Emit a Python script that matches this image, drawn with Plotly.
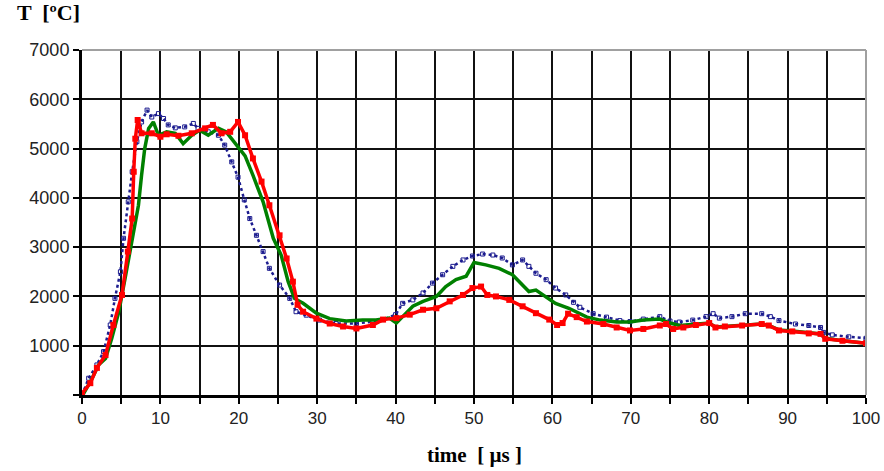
import plotly.graph_objects as go

# ---- data ----
blue_t = [0, 0.85, 1.9, 2.75, 3.6, 4.2, 4.9, 5.3, 5.9, 6.4, 7.0, 7.6, 8.3, 8.9, 9.75, 10.4, 11.0, 11.9,
          13.1, 14.2, 14.8, 16.1, 17.4, 18.2, 19.1, 19.9, 20.7, 21.4, 22.25, 23.1, 23.9, 25.2, 26.5,
          27.3, 28.6, 30.3, 32.4, 35, 37.1, 38.4, 40, 40.9, 42.2, 43.5, 44.7, 46.0, 47.3, 48.6, 49.8,
          51.1, 52.4, 53.6, 54.9, 56.2, 57.0, 57.9, 59.2, 60.4, 61.7, 62.7, 63.5, 65.2, 66.9, 68.6,
          69.9, 71.6, 73.7, 75, 76.2, 77.9, 79.6, 80.5, 81.3, 82.9, 84.6, 86.7, 87.8, 88.9, 91, 92.7,
          94.2, 94.6, 95.7, 97.8, 100]
blue_T = [0, 340, 610, 880, 1420, 1960, 2500, 3180, 3920, 4530, 5140, 5540, 5780, 5640, 5710, 5610,
          5480, 5420, 5440, 5510, 5410, 5340, 5270, 5070, 4730, 4420, 3960, 3580, 3240, 2910, 2570,
          2230, 1960, 1690, 1620, 1520, 1450, 1450, 1490, 1530, 1630, 1860, 1930, 2070, 2270, 2440,
          2610, 2740, 2820, 2860, 2840, 2780, 2640, 2740, 2610, 2470, 2340, 2170, 2030, 1880, 1780,
          1650, 1580, 1510, 1490, 1540, 1590, 1500, 1480, 1520, 1590, 1650, 1560, 1590, 1650, 1650,
          1590, 1510, 1440, 1410, 1370, 1270, 1220, 1180, 1150]

green_t = [0.2, 1.3, 2.1, 3.0, 3.8, 4.7, 5.5, 6.4, 7.2, 7.6, 8.0, 8.5, 9.1, 9.75, 10.8, 11.9, 12.9,
           14.0, 15.0, 16.1, 17.4, 18.4, 19.7, 20.8, 21.8, 23.1, 24.4, 25.4, 26.3, 27.1, 28.2, 29.9,
           31.6, 33.7, 35.8, 37.5, 39.2, 40.1, 40.9, 42.2, 43.5, 45.2, 46.4, 47.7, 49.0, 50.0, 51.5,
           53.2, 54.9, 56.2, 57.0, 57.9, 59.2, 60.4, 62.1, 64.4, 66.1, 68.2, 69.9, 71.6, 73.7, 75,
           76.2, 77.9, 80, 80.8, 82, 84.2, 86.7, 87.6, 88.9, 90.6, 92.7, 94.2, 94.8, 97, 100]
green_T = [30, 340, 610, 740, 1150, 1690, 2370, 3180, 3850, 4460, 5000, 5410, 5540, 5270, 5340, 5310,
           5100, 5270, 5370, 5270, 5410, 5340, 5070, 4850, 4460, 3920, 3180, 2840, 2300, 1960, 1860,
           1660, 1550, 1500, 1520, 1520, 1560, 1460, 1590, 1800, 1900, 2000, 2200, 2340, 2410, 2690,
           2640, 2570, 2440, 2240, 2100, 2130, 2000, 1860, 1760, 1580, 1520, 1480, 1480, 1520, 1540,
           1460, 1410, 1440, 1460, 1380, 1390, 1410, 1440, 1410, 1320, 1300, 1260, 1240, 1150, 1100,
           1050]

red_t = [0, 1.06, 1.9, 3.0, 4.0, 5.1, 5.85, 6.4, 6.6, 6.8, 7.1, 7.6, 8.9, 10.0, 10.8, 12.3, 14.0,
         15.7, 16.7, 17.8, 18.9, 19.9, 20.8, 21.8, 22.9, 23.9, 25.2, 26.1, 26.9, 27.5, 28.2, 29.9,
         31.6, 33.3, 35, 37.1, 38.4, 40.1, 41.8, 43.5, 45.2, 46.9, 48.6, 49.8, 50.9, 51.7, 52.8,
         54.5, 56.2, 57.9, 59.6, 60.6, 61.3, 62.0, 63.1, 64.4, 66.5, 68.2, 69.9, 71.6, 73.7, 74.5,
         75.4, 76.7, 78.3, 80, 80.8, 82, 84.2, 86.7, 87.6, 88.9, 90.6, 92.7, 94.2, 94.8, 97, 100]
red_T = [30, 240, 550, 810, 1420, 2030, 2910, 3580, 4530, 5200, 5580, 5310, 5310, 5240, 5290, 5260,
         5310, 5410, 5480, 5310, 5340, 5540, 5270, 4800, 4330, 3850, 3240, 2770, 2300, 1830, 1690,
         1550, 1450, 1390, 1350, 1420, 1530, 1560, 1630, 1730, 1760, 1900, 2030, 2170, 2200, 2030,
         2000, 1930, 1800, 1660, 1530, 1420, 1460, 1650, 1580, 1490, 1440, 1370, 1310, 1340, 1410,
         1440, 1340, 1370, 1420, 1460, 1370, 1390, 1410, 1440, 1410, 1310, 1290, 1250, 1240, 1140,
         1100, 1050]

x_tickvals = list(range(0, 101, 5))
x_ticktext = [str(v) if v % 10 == 0 else "" for v in x_tickvals]
y_tickvals = list(range(0, 7001, 1000))
y_ticktext = [""] + [str(v) for v in y_tickvals[1:]]

fig = go.Figure()
fig.add_trace(go.Scatter(x=blue_t, y=blue_T, mode="lines+markers",
                         line=dict(color="#1c1c8f", width=2.5, dash="dot"),
                         marker=dict(symbol="square-open", size=4, color="#1c1c8f", line=dict(width=1)),
                         showlegend=False))
fig.add_trace(go.Scatter(x=green_t, y=green_T, mode="lines",
                         line=dict(color="#008000", width=3.5), showlegend=False))
fig.add_trace(go.Scatter(x=red_t, y=red_T, mode="lines+markers",
                         line=dict(color="#ff0000", width=3.5),
                         marker=dict(symbol="square", size=6, color="#ff0000"),
                         showlegend=False))

fig.update_layout(
    width=884, height=471,
    margin=dict(l=82, r=18, t=50, b=76, autoexpand=False),
    paper_bgcolor="white", plot_bgcolor="white",
    font=dict(family="Arial, Liberation Sans", color="#222"),
    xaxis=dict(range=[0, 100], tickvals=x_tickvals, ticktext=x_ticktext,
               showgrid=True, gridcolor="#111", gridwidth=1.5,
               showline=True, linecolor="black", linewidth=3,
               ticks="outside", ticklen=6, tickwidth=2, tickcolor="black",
               tickfont=dict(size=17, family="Liberation Sans Narrow, Arial Narrow, Arial"),
               zeroline=False, fixedrange=True, automargin=False),
    yaxis=dict(range=[0, 7000], tickvals=y_tickvals, ticktext=y_ticktext,
               showgrid=True, gridcolor="#111", gridwidth=1.5,
               showline=True, linecolor="black", linewidth=3,
               ticks="outside", ticklen=6, tickwidth=2, tickcolor="black",
               tickfont=dict(size=18), zeroline=False, fixedrange=True, automargin=False),
    shapes=[
        dict(type="line", xref="paper", yref="paper", x0=0, x1=1, y0=1, y1=1,
             line=dict(color="#a0a0a0", width=2)),
        dict(type="line", xref="paper", yref="paper", x0=1, x1=1, y0=0, y1=1,
             line=dict(color="#a0a0a0", width=2)),
    ],
    annotations=[
        dict(text="<b>T  [ºC]</b>", xref="paper", yref="paper", x=-0.086, y=1.11,
             xanchor="left", yanchor="middle", showarrow=False,
             font=dict(family="Liberation Serif, Times New Roman", size=22, color="black")),
        dict(text="<b>time  [ µs ]</b>", xref="paper", yref="paper", x=0.5, y=-0.174,
             xanchor="center", yanchor="middle", showarrow=False,
             font=dict(family="Liberation Serif, Times New Roman", size=21, color="black")),
    ],
)

fig.write_html("out.html", config={"displayModeBar": False},
               post_script="document.body.style.margin='0';document.body.style.overflow='hidden';")
